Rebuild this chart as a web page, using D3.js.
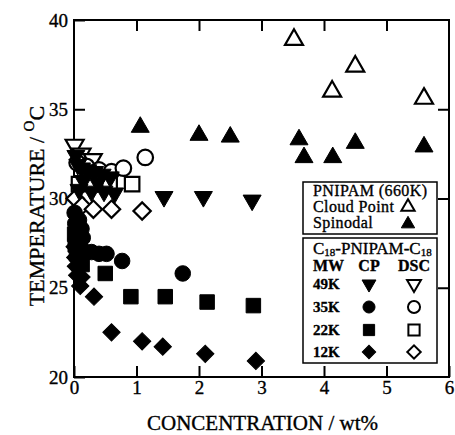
<!DOCTYPE html>
<html>
<head>
<meta charset="utf-8">
<script src="https://cdn.jsdelivr.net/npm/d3@7"></script>
<style>
  body { margin: 0; background: #fff; }
  text { font-family: "Liberation Serif", "Times New Roman", serif; fill: #000; stroke: #000; stroke-width: 0.35px; }
</style>
</head>
<body>
<div id="chart"></div>
<script>
// PNIPAM (660K)
var cloudPoint = [[3.52, 38.9], [4.13, 36.0], [4.5, 37.4], [5.6, 35.6]];
var spinodal = [[1.06, 34.0], [2.0, 33.55], [2.5, 33.45], [3.6, 33.3], [3.68, 32.3], [4.14, 32.3], [4.5, 33.1], [5.6, 32.9]];

// C18-PNIPAM-C18, CP (filled) and DSC (open)
var cp49 = [[0.03, 32.4], [0.06, 31.9], [0.12, 31.7], [0.22, 31.6], [0.33, 31.5], [0.45, 31.35], [0.58, 31.2],
            [0.15, 31.0], [0.38, 30.9], [0.08, 30.5], [0.28, 30.4], [0.48, 30.4], [0.65, 30.3],
            [1.44, 30.1], [2.07, 30.1], [2.85, 29.9]];
var dsc49 = [[0.01, 33.0], [0.12, 32.5], [0.3, 32.2]];
var cp35 = [[0.01, 29.2], [0.02, 28.6], [0.04, 28.1], [0.06, 27.7], [0.1, 27.3], [0.08, 28.8], [0.12, 28.3],
            [0.14, 27.8], [0.18, 27.0], [0.28, 27.0], [0.4, 26.9], [0.52, 26.9], [0.77, 26.5], [1.74, 25.8]];
var dsc35 = [[0.05, 32.0], [0.2, 31.8], [0.4, 31.6], [0.6, 31.5], [0.79, 31.7], [1.14, 32.3]];
var cp22 = [[0.01, 28.0], [0.02, 27.4], [0.04, 26.9], [0.07, 26.4], [0.1, 26.8], [0.13, 26.3], [0.5, 25.8],
            [0.91, 24.5], [1.46, 24.5], [2.13, 24.2], [2.87, 24.0]];
var dsc22 = [[0.08, 30.8], [0.3, 30.9], [0.57, 30.8], [0.93, 30.8]];
var cp12 = [[0.01, 27.3], [0.02, 26.7], [0.03, 26.2], [0.05, 25.7], [0.08, 26.1], [0.12, 25.6], [0.1, 25.1],
            [0.32, 24.5], [0.6, 22.5], [1.09, 22.0], [1.42, 21.7], [2.1, 21.3], [2.91, 20.9]];
var dsc12 = [[0.02, 30.0], [0.13, 29.6], [0.31, 29.4], [0.6, 29.4], [1.09, 29.3]];

var xTicks = [0, 1, 2, 3, 4, 5, 6];
var yTicks = [20, 25, 30, 35, 40];
var mwLabels = ["49K", "35K", "22K", "12K"];

var svgWidth = 455;
var svgHeight = 435;
var margin = { top: 20, right: 6, bottom: 58, left: 74 };
var chartWidth = svgWidth - margin.left - margin.right;
var chartHeight = svgHeight - margin.top - margin.bottom;

var svg = d3.select("#chart")
    .append("svg")
    .attr("width", svgWidth)
    .attr("height", svgHeight);

var chart = svg.append("g")
    .attr("transform", `translate(${margin.left}, ${margin.top})`);

var xScale = d3.scaleLinear().domain([0, 6]).range([0, chartWidth]);
var yScale = d3.scaleLinear().domain([20, 40]).range([chartHeight, 0]);

/// axes, ticks pointing inward on all four sides
function styleAxis(g, fontSize) {
    g.select(".domain").remove();
    g.selectAll(".tick line").attr("stroke", "#000").attr("stroke-width", 2);
    g.selectAll(".tick text").attr("font-size", fontSize).attr("fill", "#000")
        .attr("font-family", "Liberation Serif, serif");
}

chart.append("g")
    .attr("transform", `translate(0, ${chartHeight})`)
    .call(d3.axisBottom(xScale).tickValues(xTicks).tickSizeInner(-11).tickSizeOuter(0).tickPadding(3).tickFormat(d3.format("d")))
    .call(g => styleAxis(g, 19));

chart.append("g")
    .call(d3.axisTop(xScale).tickValues(xTicks.slice(1, -1)).tickSizeInner(-11).tickSizeOuter(0).tickFormat(""))
    .call(g => styleAxis(g, 19));

chart.append("g")
    .call(d3.axisLeft(yScale).tickValues(yTicks).tickSizeInner(-11).tickSizeOuter(0).tickPadding(6).tickFormat(d3.format("d")))
    .call(g => styleAxis(g, 19));

chart.append("g")
    .attr("transform", `translate(${chartWidth}, 0)`)
    .call(d3.axisRight(yScale).tickValues(yTicks.slice(1, -1)).tickSizeInner(-11).tickSizeOuter(0).tickFormat(""))
    .call(g => styleAxis(g, 19));

chart.append("rect")
    .attr("width", chartWidth)
    .attr("height", chartHeight)
    .attr("fill", "none")
    .attr("stroke", "#000")
    .attr("stroke-width", 2);

/// axis titles
svg.append("text")
    .attr("x", margin.left + chartWidth / 2 + 1)
    .attr("y", 430)
    .attr("text-anchor", "middle")
    .attr("font-size", 21)
    .text("CONCENTRATION / wt%");

var yTitle = svg.append("text")
    .attr("transform", "translate(44, 206) rotate(-90)")
    .attr("text-anchor", "middle")
    .attr("font-size", 22);
yTitle.append("tspan").text("TEMPERATURE / ");
yTitle.append("tspan").attr("font-size", 15).attr("dy", -10).text("O");
yTitle.append("tspan").attr("dy", 10).text("C");

/// marker shapes
var shapes = {
    up: { type: d3.symbolTriangle, size: 140, rotate: 0 },
    down: { type: d3.symbolTriangle, size: 140, rotate: 180 },
    circle: { type: d3.symbolCircle, size: 190, rotate: 0 },
    square: { type: d3.symbolSquare, size: 210, rotate: 0 },
    diamond: { type: d3.symbolSquare, size: 150, rotate: 45 }
};

function drawSeries(data, shape, filled) {
    var s = shapes[shape];
    var sym = d3.symbol().type(s.type).size(s.size);
    chart.append("g").selectAll("path")
        .data(data)
        .enter()
        .append("path")
        .attr("d", sym)
        .attr("transform", d => `translate(${xScale(d[0])}, ${yScale(d[1])}) rotate(${s.rotate})`)
        .attr("fill", filled ? "#000" : "#fff")
        .attr("stroke", "#000")
        .attr("stroke-width", filled ? 1 : 2.2);
}

drawSeries(dsc49, "down", false);
drawSeries(dsc35, "circle", false);
drawSeries(dsc22, "square", false);
drawSeries(dsc12, "diamond", false);
drawSeries(cloudPoint, "up", false);
drawSeries(spinodal, "up", true);
drawSeries(cp49, "down", true);
drawSeries(cp35, "circle", true);
drawSeries(cp22, "square", true);
drawSeries(cp12, "diamond", true);

/// legend boxes
var legend = svg.append("g");

function legendMarker(x, y, shape, filled, scale) {
    var s = shapes[shape];
    legend.append("path")
        .attr("d", d3.symbol().type(s.type).size(s.size * scale))
        .attr("transform", `translate(${x}, ${y}) rotate(${s.rotate})`)
        .attr("fill", filled ? "#000" : "#fff")
        .attr("stroke", "#000")
        .attr("stroke-width", filled ? 1 : 2);
}

legend.append("rect")
    .attr("x", 303).attr("y", 182).attr("width", 134).attr("height", 52)
    .attr("fill", "#fff").attr("stroke", "#000").attr("stroke-width", 1.5);

legend.append("text").attr("x", 313).attr("y", 196).attr("font-size", 16).attr("letter-spacing", 0.4).text("PNIPAM (660K)");
legend.append("text").attr("x", 313).attr("y", 212).attr("font-size", 16).attr("letter-spacing", 0.4).text("Cloud Point");
legend.append("text").attr("x", 313).attr("y", 228).attr("font-size", 16).attr("letter-spacing", 0.4).text("Spinodal");
legendMarker(408, 207, "up", false, 0.55);
legendMarker(408, 224, "up", true, 0.55);

legend.append("rect")
    .attr("x", 303).attr("y", 238).attr("width", 134).attr("height", 125)
    .attr("fill", "#fff").attr("stroke", "#000").attr("stroke-width", 1.5);

var title2 = legend.append("text").attr("x", 313).attr("y", 254).attr("font-size", 17);
title2.append("tspan").text("C");
title2.append("tspan").attr("font-size", 11).attr("dy", 2).text("18");
title2.append("tspan").attr("dy", -2).text("-PNIPAM-C");
title2.append("tspan").attr("font-size", 11).attr("dy", 2).text("18");

legend.append("text").attr("x", 313).attr("y", 271).attr("font-size", 16).attr("font-weight", "bold").text("MW");
legend.append("text").attr("x", 369).attr("y", 271).attr("font-size", 16).attr("font-weight", "bold").attr("text-anchor", "middle").text("CP");
legend.append("text").attr("x", 414).attr("y", 271).attr("font-size", 16).attr("font-weight", "bold").attr("text-anchor", "middle").text("DSC");

var rowY = [289, 312, 335, 357];
var rowShapes = ["down", "circle", "square", "diamond"];
mwLabels.forEach(function (label, i) {
    legend.append("text").attr("x", 313).attr("y", rowY[i]).attr("font-size", 15)
        .attr("font-weight", "bold").text(label);
    legendMarker(369, rowY[i] - 5, rowShapes[i], true, 0.6);
    legendMarker(414, rowY[i] - 5, rowShapes[i], false, 0.6);
});
</script>
</body>
</html>
